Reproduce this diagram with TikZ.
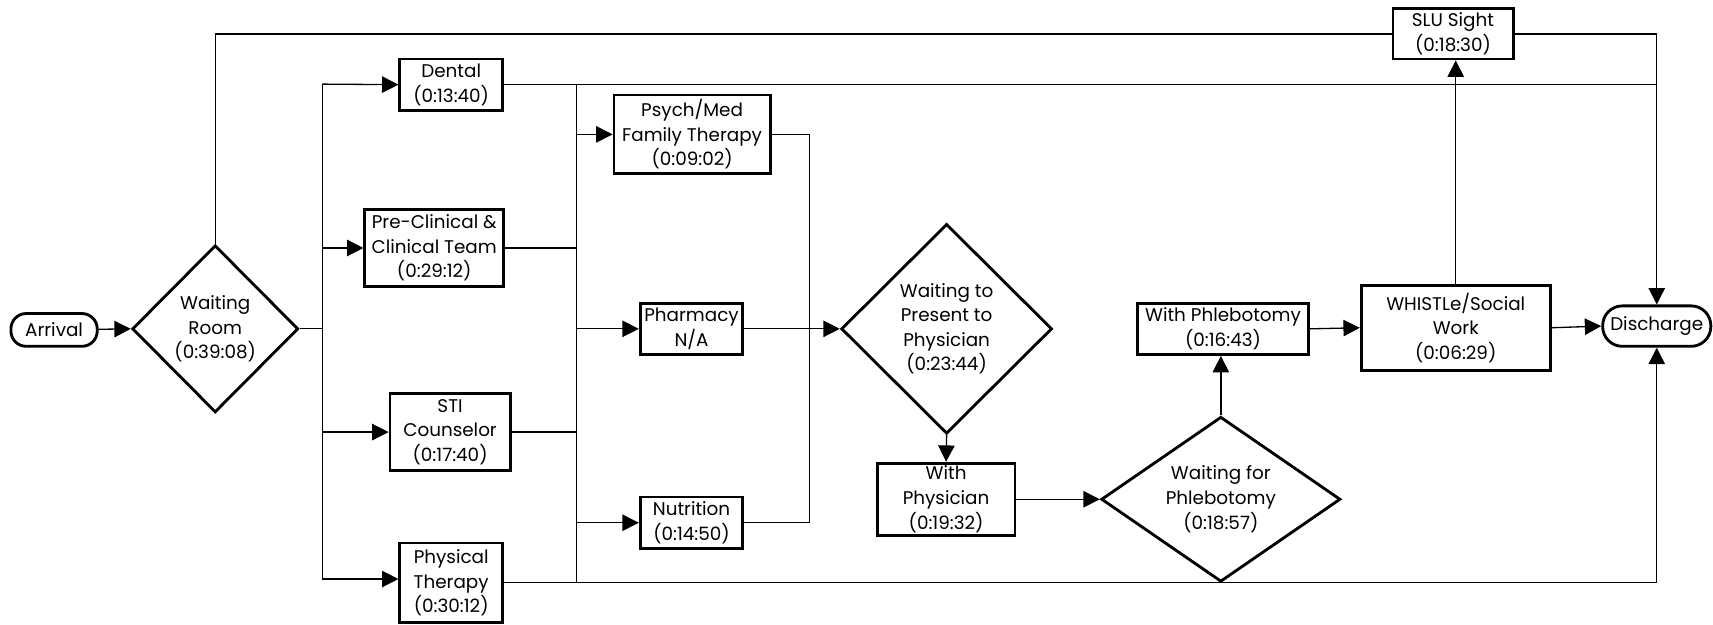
\documentclass[tikz,border=0pt]{standalone}
\usepackage{fontspec}
\setmainfont{Poppins}
\usetikzlibrary{shapes.geometric,arrows.meta}
\begin{document}
\begin{tikzpicture}[x=0.5pt,y=-0.5pt,
  every node/.style={font=\fontsize{8.4}{11.25}\selectfont, align=center, inner sep=0pt, text=black},
  stepbox/.style={draw, line width=1.3pt, rectangle},
  term/.style={draw, line width=1.3pt, rectangle, rounded corners=7pt},
  decis/.style={draw, line width=1.3pt, diamond, inner sep=0pt},
  conn/.style={line width=0.6pt},
  arr/.style={conn, -{Triangle[length=7.5pt,width=7.5pt]}}]
\useasboundingbox (0,0) rectangle (1568,572);

\node[term, minimum width=39.5pt, minimum height=15pt] (arrival) at (49.5,302) {Arrival};
\node[decis, minimum width=76pt, minimum height=76.5pt, label={[align=center]center:Waiting\\Room\\(0:39:08)}] (wr) at (197,301) {};
\node[stepbox, minimum width=47pt, minimum height=23.5pt] (dental) at (413,77.5) {Dental\\(0:13:40)};
\node[stepbox, minimum width=63.5pt, minimum height=35pt] (pre) at (397.5,227) {Pre-Clinical \&\\Clinical Team\\(0:29:12)};
\node[stepbox, minimum width=55pt, minimum height=35.5pt] (sti) at (412,395.5) {STI\\Counselor\\(0:17:40)};
\node[stepbox, minimum width=47pt, minimum height=36.5pt] (pt) at (413,533.5) {Physical\\Therapy\\(0:30:12)};
\node[stepbox, minimum width=71.5pt, minimum height=36pt] (psych) at (633.5,123) {Psych/Med\\Family Therapy\\(0:09:02)};
\node[stepbox, minimum width=47pt, minimum height=23.5pt] (pharm) at (633,301) {Pharmacy\\N/A};
\node[stepbox, minimum width=47pt, minimum height=23.5pt] (nutr) at (633,478.5) {Nutrition\\(0:14:50)};
\node[decis, minimum width=96.5pt, minimum height=96pt, label={[align=center]center:Waiting to\\Present to\\Physician\\(0:23:44)}] (wtp) at (866.5,301) {};
\node[stepbox, minimum width=63pt, minimum height=33pt] (wphys) at (866,457) {With\\Physician\\(0:19:32)};
\node[decis, minimum width=109.5pt, minimum height=75.5pt, label={[align=center]center:Waiting for\\Phlebotomy\\(0:18:57)}] (wfp) at (1117.5,457) {};
\node[stepbox, minimum width=78.5pt, minimum height=23.5pt] (wphl) at (1119.5,301) {With Phlebotomy\\(0:16:43)};
\node[stepbox, minimum width=86.5pt, minimum height=39pt] (whistle) at (1332.5,300) {WHISTLe/Social\\Work\\(0:06:29)};
\node[stepbox, minimum width=55pt, minimum height=23pt] (slu) at (1330,31) {SLU Sight\\(0:18:30)};
\node[term, minimum width=49.5pt, minimum height=18.5pt, rounded corners=9pt] (dis) at (1516.5,298.5) {Discharge};

\coordinate (brT) at (295,77);
\coordinate (brB) at (295,530);
\coordinate (mT) at (528,77);
\coordinate (mB) at (528,533.5);
\coordinate (m2T) at (741,123);
\coordinate (m2B) at (741,478.5);

\draw[arr] (arrival) -- (wr.west);
\draw[conn] (wr.north) |- (slu.west);
\draw[conn] (wr.east) -- (wr.east -| brT);
\draw[conn] (brT) -- (brB);
\draw[arr] (brT) -- (dental.west);
\draw[arr] (pre.west -| brT) -- (pre.west);
\draw[arr] (sti.west -| brT) -- (sti.west);
\draw[arr] (brB) -- (brB -| pt.west);

\draw[conn] (dental.east) -- (dental.east -| dis.north);
\draw[conn] (mT) -- (mB);
\draw[conn] (pre.east) -- (pre.east -| mT);
\draw[conn] (sti.east) -- (sti.east -| mT);
\draw[arr] (pt.east) -| (dis.south);

\draw[arr] (psych.west -| mT) -- (psych.west);
\draw[arr] (pharm.west -| mT) -- (pharm.west);
\draw[arr] (nutr.west -| mT) -- (nutr.west);

\draw[conn] (psych.east) -- (m2T) -- (m2B) -- (nutr.east);
\draw[arr] (pharm.east) -- (wtp.west);

\draw[arr] (wtp.south) -- (wphys.north);
\draw[arr] (wphys.east) -- (wfp.west);
\draw[arr] (wfp.north) -- (wfp.north |- wphl.south);
\draw[arr] (wphl.east) -- (whistle.west);
\draw[arr] (whistle.north) -- (whistle.north |- slu.south);
\draw[arr] (whistle.east) -- (dis.west);
\draw[arr] (slu.east) -| (dis.north);
\end{tikzpicture}
\end{document}
